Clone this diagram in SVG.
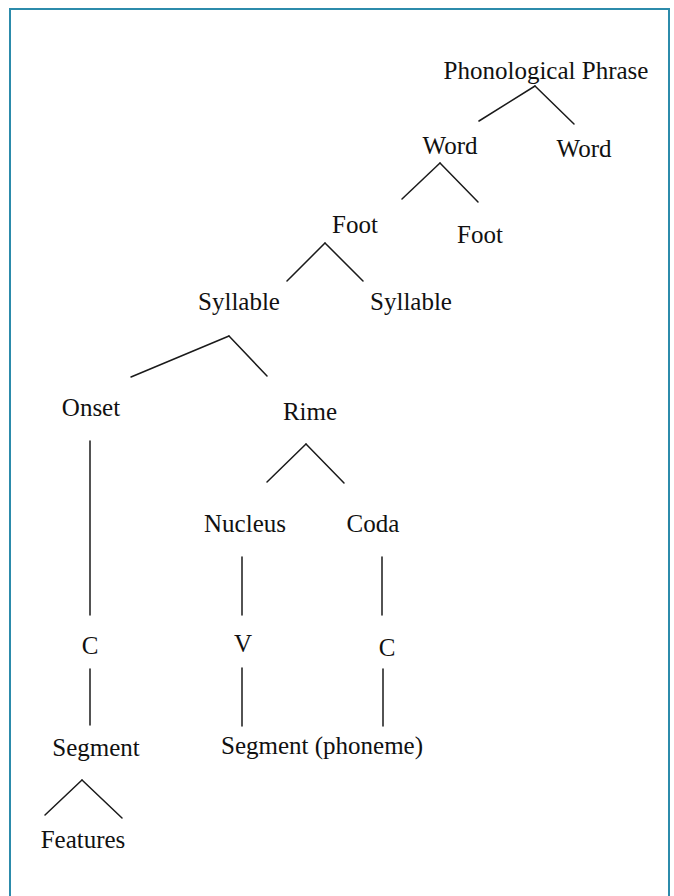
<svg xmlns="http://www.w3.org/2000/svg" width="674" height="896" viewBox="0 0 674 896">
<style>
text{font-family:"Liberation Serif","Times New Roman",serif;font-size:25px;fill:#111;text-anchor:middle}
.e line{stroke:#1a1a1a;stroke-width:1.5;stroke-linecap:round}
</style>
<rect x="0" y="0" width="674" height="896" fill="#fff"/>
<rect x="10" y="9" width="659" height="900" fill="none" stroke="#2c8bab" stroke-width="2"/>
<g id="n-pp"><text x="546" y="79">Phonological Phrase</text></g>
<g id="n-word1"><text x="450" y="154">Word</text></g>
<g id="n-word2"><text x="584" y="157">Word</text></g>
<g id="n-foot1"><text x="355" y="233">Foot</text></g>
<g id="n-foot2"><text x="480" y="243">Foot</text></g>
<g id="n-syl1"><text x="239" y="310">Syllable</text></g>
<g id="n-syl2"><text x="411" y="310">Syllable</text></g>
<g id="n-onset"><text x="91" y="416">Onset</text></g>
<g id="n-rime"><text x="310" y="420">Rime</text></g>
<g id="n-nucleus"><text x="245" y="532">Nucleus</text></g>
<g id="n-coda"><text x="373" y="532">Coda</text></g>
<g id="n-c1"><text x="90" y="654">C</text></g>
<g id="n-v"><text x="243" y="652">V</text></g>
<g id="n-c2"><text x="387" y="656">C</text></g>
<g id="n-seg"><text x="96" y="756">Segment</text></g>
<g id="n-segph"><text x="322" y="754">Segment (phoneme)</text></g>
<g id="n-feat"><text x="83" y="848">Features</text></g>
<g id="connectors" class="e">
<line x1="535" y1="86" x2="479" y2="121"/>
<line x1="535" y1="86" x2="574" y2="124"/>
<line x1="440" y1="163" x2="402" y2="199"/>
<line x1="440" y1="163" x2="478" y2="202"/>
<line x1="325" y1="243" x2="287" y2="281"/>
<line x1="325" y1="243" x2="363" y2="281"/>
<line x1="229" y1="336" x2="131" y2="377"/>
<line x1="229" y1="336" x2="267" y2="376"/>
<line x1="306" y1="444" x2="267" y2="482"/>
<line x1="306" y1="444" x2="344" y2="483"/>
<line x1="90" y1="441" x2="90" y2="615"/>
<line x1="242" y1="557" x2="242" y2="615"/>
<line x1="382" y1="557" x2="382" y2="615"/>
<line x1="90" y1="669" x2="90" y2="725"/>
<line x1="242" y1="668" x2="242" y2="726"/>
<line x1="383" y1="669" x2="383" y2="726"/>
<line x1="82" y1="780" x2="45" y2="815"/>
<line x1="82" y1="780" x2="122" y2="818"/>
</g>
</svg>
